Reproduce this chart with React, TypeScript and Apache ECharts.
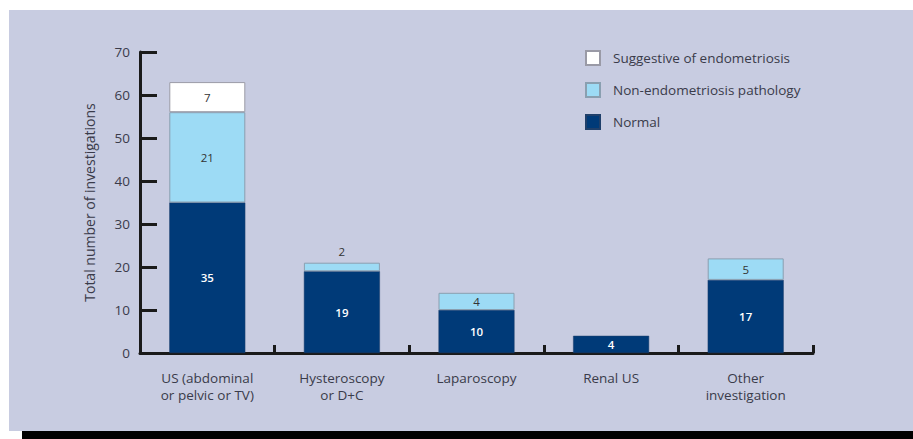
import React, { useEffect, useRef } from "react";
import * as echarts from "echarts";

const categories = [
  "US (abdominal\nor pelvic or TV)",
  "Hysteroscopy\nor D+C",
  "Laparoscopy",
  "Renal US",
  "Other\ninvestigation",
];
const normal = [35, 19, 10, 4, 17];
const nonEndo = [21, 2, 4, 0, 5];
const suggestive = [7, 0, 0, 0, 0];
const yTicks = [0, 10, 20, 30, 40, 50, 60, 70];

const FONT = "'Open Sans', 'Liberation Sans', sans-serif";
const TEXT = "#3a3b4a";

export default function App() {
  const ref = useRef<HTMLDivElement>(null);
  useEffect(() => {
    if (!ref.current) return;
    const chart = echarts.init(ref.current, undefined, { renderer: "svg" });
    const toData = (arr: number[], smallTop = false) =>
      arr.map((v) => {
        if (!v) return "-";
        if (smallTop && v <= 2) return { value: v, label: { position: "top" } };
        return v;
      });
    chart.setOption({
      animation: false,
      textStyle: { fontFamily: FONT },
      graphic: [
        {
          type: "rect",
          z: -100,
          shape: { x: 9, y: 10, width: 904, height: 421 },
          style: { fill: "#c8cce1" },
        },
        {
          type: "rect",
          z: -100,
          shape: { x: 22, y: 431, width: 891, height: 8 },
          style: { fill: "#000000" },
        },
      ],
      grid: { left: 140, right: 100, top: 52, bottom: 86, containLabel: false },
      legend: {
        orient: "vertical",
        left: 580,
        top: 45,
        itemWidth: 14,
        itemHeight: 14,
        itemGap: 16,
        icon: "rect",
        data: ["Suggestive of endometriosis", "Non-endometriosis pathology", "Normal"],
        textStyle: { color: TEXT, fontSize: 13.5, fontFamily: FONT, padding: [0, 0, 0, 8] },
      },
      xAxis: {
        type: "category",
        data: categories,
        boundaryGap: true,
        axisLine: { lineStyle: { color: "#1a1a1a", width: 3 } },
        axisTick: { show: true, inside: true, length: 8, lineStyle: { color: "#1a1a1a", width: 3 } },
        axisLabel: { color: TEXT, fontSize: 13.5, lineHeight: 17, margin: 16, fontFamily: FONT },
      },
      yAxis: {
        type: "value",
        min: 0,
        max: 70,
        interval: 10,
        name: "Total number of investigations",
        nameLocation: "middle",
        nameGap: 44,
        nameRotate: 90,
        nameTextStyle: { color: TEXT, fontSize: 14, fontFamily: FONT },
        splitLine: { show: false },
        axisLine: { show: true, lineStyle: { color: "#1a1a1a", width: 3 } },
        axisTick: { show: true, inside: true, length: 17, lineStyle: { color: "#1a1a1a", width: 3 } },
        axisLabel: {
          color: TEXT,
          fontSize: 13.5,
          margin: 10,
          fontFamily: FONT,
          formatter: (v: number) => (yTicks.includes(v) ? String(v) : ""),
        },
      },
      series: [
        {
          name: "Normal",
          type: "bar",
          stack: "s",
          barWidth: 76,
          data: toData(normal),
          itemStyle: { color: "#003a78", borderColor: "#1f3f6a", borderWidth: 0.5 },
          label: { show: true, position: "inside", color: "#ffffff", fontSize: 11.5, fontWeight: 600, fontFamily: FONT },
        },
        {
          name: "Non-endometriosis pathology",
          type: "bar",
          stack: "s",
          barWidth: 76,
          data: toData(nonEndo, true),
          itemStyle: { color: "#9ddbf5", borderColor: "#8a9fb0", borderWidth: 1 },
          label: { show: true, position: "inside", color: "#333333", fontSize: 11.5, fontFamily: FONT },
        },
        {
          name: "Suggestive of endometriosis",
          type: "bar",
          stack: "s",
          barWidth: 76,
          data: toData(suggestive),
          itemStyle: { color: "#ffffff", borderColor: "#9a9aa6", borderWidth: 1 },
          label: { show: true, position: "inside", color: "#333333", fontSize: 11.5, fontFamily: FONT },
        },
      ],
    });
    return () => chart.dispose();
  }, []);
  return (
    <div
      ref={ref}
      style={{ position: "absolute", left: 0, top: 0, width: 913, height: 439, background: "#ffffff" }}
    />
  );
}
